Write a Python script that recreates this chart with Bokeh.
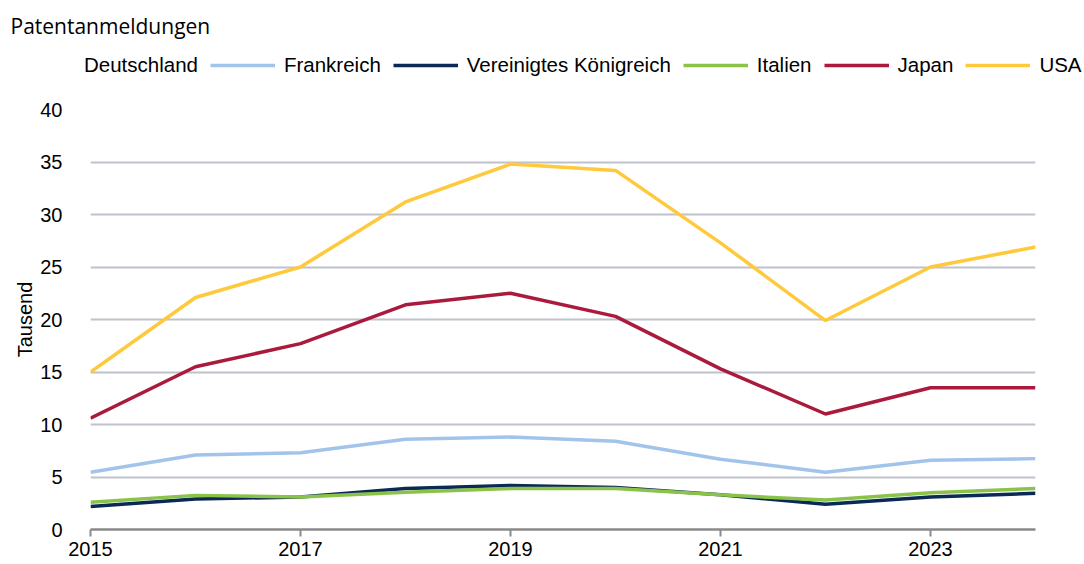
from bokeh.plotting import figure
from bokeh.layouts import column
from bokeh.models import Legend, LegendItem, Range1d, FixedTicker, Label
from bokeh.embed import file_html
from bokeh.resources import INLINE

years = [2015, 2016, 2017, 2018, 2019, 2020, 2021, 2022, 2023, 2024]
deutschland = [14.3, 17.5, 18.7, 19.7, 21.0, 20.6, 17.0, 13.3, 14.5, 14.8]
frankreich = [5.45, 7.1, 7.3, 8.6, 8.8, 8.4, 6.7, 5.45, 6.6, 6.75]
vk = [2.2, 2.9, 3.1, 3.9, 4.2, 4.0, 3.3, 2.4, 3.1, 3.45]
italien = [2.6, 3.25, 3.1, 3.55, 3.9, 3.9, 3.3, 2.8, 3.5, 3.9]
japan = [10.6, 15.5, 17.7, 21.4, 22.5, 20.3, 15.3, 11.0, 13.5, 13.5]
usa = [15.0, 22.1, 25.0, 31.2, 34.8, 34.2, 27.3, 19.9, 25.0, 26.9]

series = [
    ("Deutschland", deutschland, "#FFFFFF"),
    ("Frankreich", frankreich, "#A3C4EA"),
    ("Vereinigtes Königreich", vk, "#0A2A55"),
    ("Italien", italien, "#8BC34A"),
    ("Japan", japan, "#AA1A3C"),
    ("USA", usa, "#FFC93C"),
]

HW = 1084
W = 1068
HEAD_H = 90

# ---- header: title + legend ----
head = figure(width=HW, height=HEAD_H, output_backend="svg", toolbar_location=None,
              x_range=Range1d(0, HW), y_range=Range1d(HEAD_H, 0),
              x_axis_type=None, y_axis_type=None,
              min_border_left=0, min_border_right=0, min_border_top=0, min_border_bottom=0)
head.outline_line_color = None
head.grid.visible = False
head.frame_align = False

items = []
for name, vals, col in series:
    lw = 1.5 if name == "Deutschland" else 3.5
    r = head.line(years, vals, line_color=col, line_width=lw)
    items.append(LegendItem(label=name, renderers=[r]))

legend = Legend(items=items, orientation="horizontal", location=(10, 13),
                padding=0, margin=0, spacing=12, label_standoff=9,
                glyph_width=65, glyph_height=20, label_height=20,
                label_text_font="Liberation Sans", label_text_font_size="20.5px",
                label_text_color="#000000", border_line_color=None,
                background_fill_alpha=0)
head.add_layout(legend)

head.add_layout(Label(x=10, y=25, text="Patentanmeldungen", text_font="Open Sans",
                      text_font_size="21px", text_color="#000000",
                      text_baseline="alphabetic", text_align="left"))

# ---- main chart ----
p = figure(width=W, height=564 - HEAD_H, output_backend="svg", toolbar_location=None,
           x_range=Range1d(2015, 2024), y_range=Range1d(0, 40),
           min_border_left=90, min_border_right=33, min_border_top=109 - HEAD_H,
           min_border_bottom=35)
p.outline_line_color = None
p.frame_align = False

for name, vals, col in series:
    if name == "Deutschland":
        p.line(years, vals, line_color=col, line_width=1.5, level="image")
    else:
        p.line(years, vals, line_color=col, line_width=3.5)

p.xaxis.ticker = FixedTicker(ticks=[2015, 2017, 2019, 2021, 2023])
p.xaxis.axis_line_color = "#8A8A8A"
p.xaxis.axis_line_width = 2.5
p.xaxis.major_tick_line_color = "#8A8A8A"
p.xaxis.major_tick_line_width = 2
p.xaxis.major_tick_out = 7
p.xaxis.major_tick_in = 0
p.xaxis.minor_tick_line_color = None
p.xaxis.major_label_text_font = "Liberation Sans"
p.xaxis.major_label_text_font_size = "20px"
p.xaxis.major_label_text_color = "#000000"
p.xaxis.major_label_standoff = 5

p.yaxis.ticker = FixedTicker(ticks=[0, 5, 10, 15, 20, 25, 30, 35, 40])
p.yaxis.axis_line_color = None
p.yaxis.major_tick_line_color = None
p.yaxis.minor_tick_line_color = None
p.yaxis.major_label_text_font = "Liberation Sans"
p.yaxis.major_label_text_font_size = "20px"
p.yaxis.major_label_text_color = "#000000"
p.yaxis.major_label_standoff = 22
p.yaxis.axis_label = "Tausend"
p.yaxis.axis_label_text_font = "Liberation Sans"
p.yaxis.axis_label_text_font_size = "20px"
p.yaxis.axis_label_text_font_style = "normal"
p.yaxis.axis_label_text_color = "#000000"
p.yaxis.axis_label_standoff = 1

p.xgrid.grid_line_color = None
p.ygrid.grid_line_color = "#BEC2CC"
p.ygrid.grid_line_width = 2

layout = column(head, p, spacing=0)
open("out.html", "w").write(file_html(layout, INLINE))
